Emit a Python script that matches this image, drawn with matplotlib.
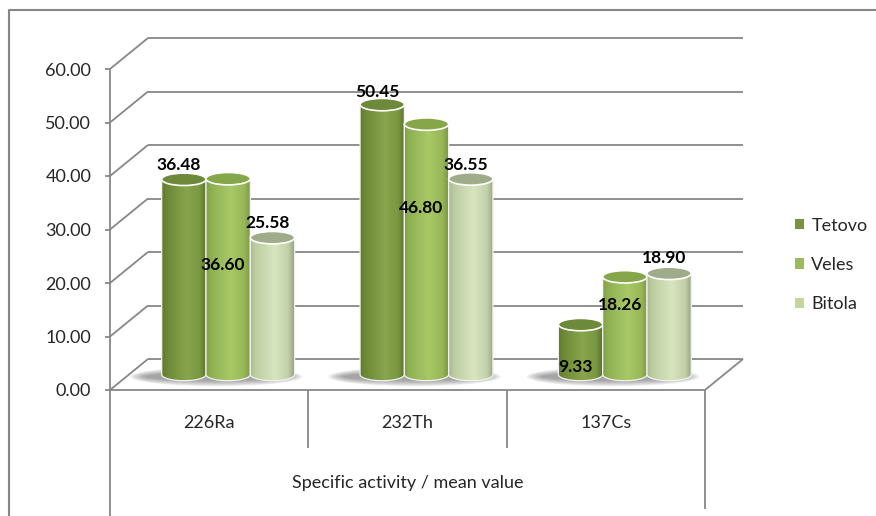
import numpy as np
import matplotlib.pyplot as plt
from matplotlib.colors import to_rgb
from matplotlib.lines import Line2D
from matplotlib.patches import Ellipse, Patch, PathPatch
from matplotlib.path import Path

categories = ['226Ra', '232Th', '137Cs']
cities = ['Tetovo', 'Veles', 'Bitola']
tetovo = [36.48, 50.45, 9.33]
veles = [36.60, 46.80, 18.26]
bitola = [25.58, 36.55, 18.90]
y_ticks = [0, 10, 20, 30, 40, 50, 60]
x_title = 'Specific activity / mean value'

# where Excel put the value labels (value units, measured on the bar plane)
label_heights = [[39.2, 52.8, 1.4], [20.5, 31.1, 13.0], [28.3, 39.2, 21.8]]

legend_colors = ['#77933C', '#9BBB59', '#C3D69B']
body_shades = [
    ['#5f7a2c', '#6c8836', '#88a54d', '#7a9741', '#5a7128'],
    ['#809f44', '#8fb052', '#a9c967', '#98b858', '#7a9741'],
    ['#a9b98d', '#bccca0', '#d8e5bf', '#c3d1a9', '#97a381'],
]
cap_colors = ['#6d893a', '#86a64a', '#9fab89']
grid_color = '#878787'

W, H = 876, 516
plt.rcParams['font.family'] = ['Lato', 'DejaVu Sans']

fig = plt.figure(figsize=(W / 100, H / 100), dpi=100)
ax = fig.add_axes([110 / W, 126 / H, 595 / W, 321 / H])
ax.set_facecolor('none')

px_x = 595 / 3      # pixels per category
px_y = 321 / 60     # pixels per value unit
depth_x = 38 / px_x
depth_y = 31 / px_y
bar_w = 44.3 / px_x
cap_h = 6.2 / px_y


def line(xs, ys, z=1):
    ax.plot(xs, ys, color=grid_color, lw=1.3, clip_on=False, zorder=z,
            solid_capstyle='butt')


# walls and floor
for t in y_ticks:
    line([0, depth_x], [t, t + depth_y])
    line([depth_x, 3 + depth_x], [t + depth_y, t + depth_y])
line([3, 3 + depth_x], [0, depth_y])

# category box under the floor
line([0, 0], [0, -24])
line([3, 3], [0, -22.3])
for k in (1, 2):
    line([k, k], [0, -10.8])


def cylinder(x0, base, top, shades, cap, z):
    cx = x0 + bar_w / 2
    x1 = x0 + bar_w
    th = np.linspace(0, -np.pi, 40)
    verts = [(x0, top), (x1, top)]
    verts += [(cx + bar_w / 2 * np.cos(a), base + cap_h * np.sin(a)) for a in th]
    verts += [(x0, top)]
    codes = [Path.MOVETO] + [Path.LINETO] * (len(verts) - 2) + [Path.CLOSEPOLY]
    body = PathPatch(Path(verts, codes), facecolor='none', edgecolor='#f2f2f2',
                     lw=0.9, zorder=z + 0.1)
    ax.add_patch(body)

    u = np.linspace(0, 1, 64)
    stops = [0, 0.1, 0.55, 0.85, 1.0]
    rgb = np.array([to_rgb(c) for c in shades])
    grad = np.stack([np.interp(u, stops, rgb[:, k]) for k in range(3)], axis=-1)
    im = ax.imshow(grad[np.newaxis, :, :], extent=(x0, x1, base - cap_h, top),
                   aspect='auto', interpolation='bicubic', zorder=z)
    im.set_clip_path(body)

    ax.add_patch(Ellipse((cx, top), bar_w, 2 * cap_h, facecolor=cap,
                         edgecolor='white', lw=1.2, zorder=z + 0.2))


series = [tetovo, veles, bitola]
base = depth_y / 2
for i in range(len(categories)):
    gc = i + 0.5 + depth_x / 2
    # soft floor shadow
    for k in range(8):
        ax.add_patch(Ellipse((gc - 0.06, base - 0.4), 3 * bar_w + 0.2 - 0.022 * k,
                             3.6 - 0.3 * k, facecolor='#4a4a4a', edgecolor='none',
                             alpha=0.08, zorder=2))
    for s, vals in enumerate(series):
        x0 = gc + (s - 1.5) * bar_w
        cylinder(x0, base, base + vals[i], body_shades[s], cap_colors[s], 3 + s)
        ax.text(x0 + bar_w / 2 - 5 / px_x, base + label_heights[s][i],
                f'{vals[i]:.2f}', ha='center', va='center', fontsize=12.5,
                fontweight='bold', color='black', zorder=10)

ax.set_xlim(0, 3)
ax.set_ylim(0, 60)
ax.set_yticks(y_ticks)
ax.set_yticklabels([f'{t:.2f}' for t in y_ticks])
ax.set_xticks([0.5, 1.5, 2.5])
ax.set_xticklabels(categories)
ax.tick_params(axis='y', length=3.5, width=1.3, color=grid_color, pad=10,
               labelsize=13, labelcolor='#262626')
ax.tick_params(axis='x', length=0, pad=18, labelsize=13, labelcolor='#262626')
ax.set_xlabel(x_title, fontsize=13, color='#262626', labelpad=32)
for side in ('top', 'right'):
    ax.spines[side].set_visible(False)
for side in ('left', 'bottom'):
    ax.spines[side].set_color(grid_color)
    ax.spines[side].set_linewidth(1.3)

handles = [Patch(facecolor=c, edgecolor='none') for c in legend_colors]
fig.legend(handles, cities, loc='center left', bbox_to_anchor=(795 / W, 1 - 265 / H),
           frameon=False, handlelength=0.5, handleheight=0.5, handletextpad=0.4,
           labelspacing=1.3, fontsize=13, borderpad=0, borderaxespad=0,
           labelcolor='#262626')

# chart border
fig.add_artist(Line2D([9 / W, 9 / W, 1], [0, 1 - 10 / H, 1 - 10 / H],
                      transform=fig.transFigure, color='#868686', lw=1.5))

fig.savefig('out.png', dpi=100)
